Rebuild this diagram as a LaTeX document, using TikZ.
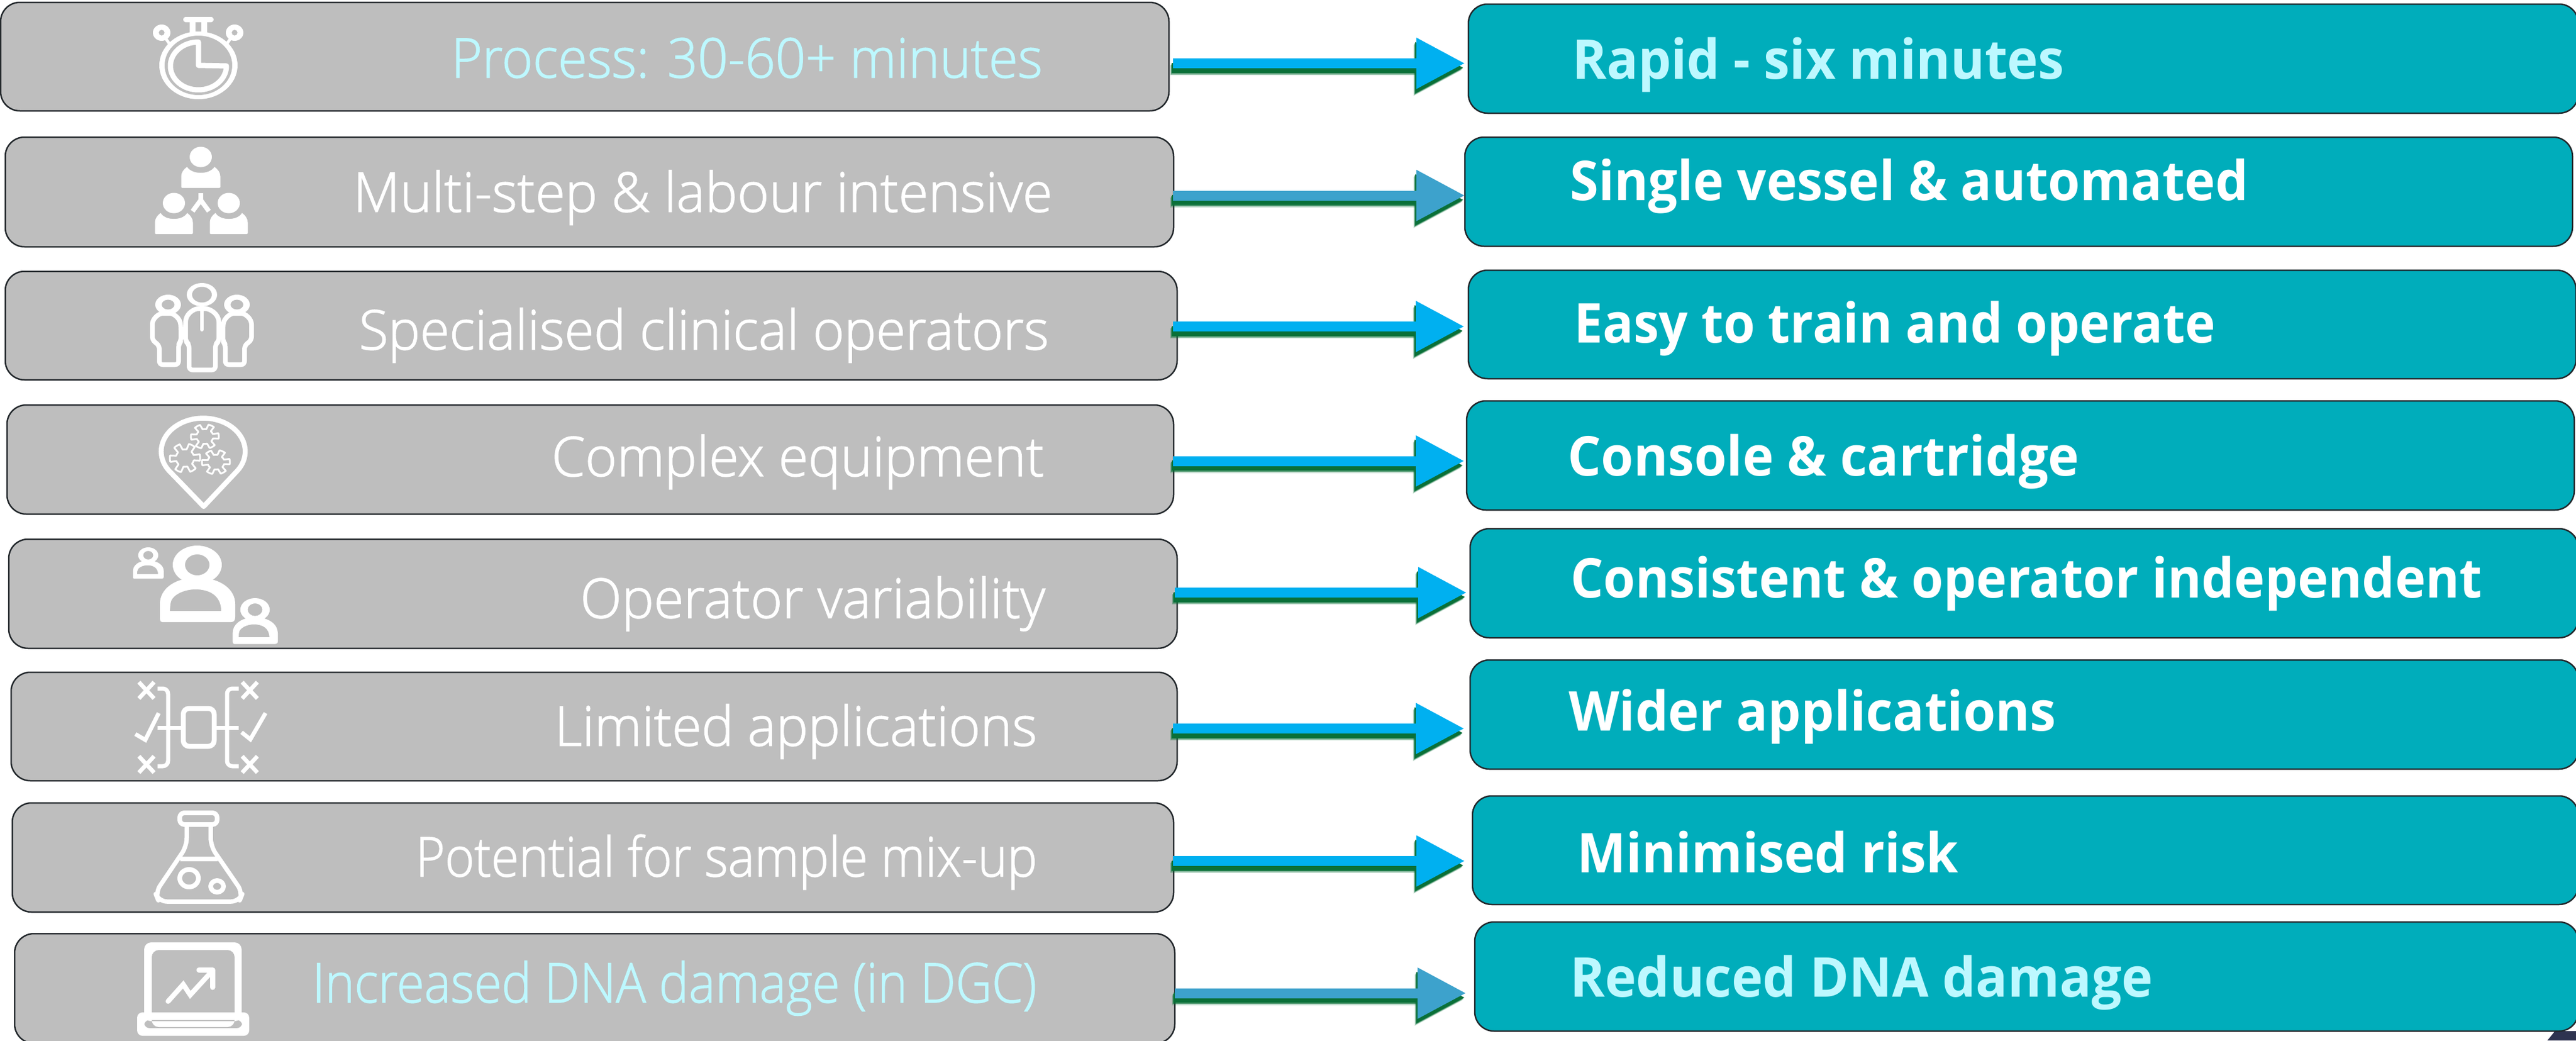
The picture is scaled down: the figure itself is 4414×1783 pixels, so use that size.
\documentclass[tikz,border=0pt]{standalone}
\usepackage{fontspec}
\usetikzlibrary{arrows.meta,calc}
\newfontfamily\leftfont[RawFeature={embolden=1.5}]{Open Sans Light}
\newfontfamily\rightfont{Open Sans}
\definecolor{boxgray}{HTML}{BEBEBE}
\definecolor{boxteal}{HTML}{00ADBB}
\definecolor{boxline}{HTML}{22272B}
\definecolor{arrbright}{HTML}{00B0F0}
\definecolor{arrmuted}{HTML}{3DA2CC}
\definecolor{arrshadow}{HTML}{0A7038}
\definecolor{paletext}{HTML}{BDF8FF}
\definecolor{cornernavy}{HTML}{2E3350}
\newcommand\fitw[2]{\setbox0\hbox{#2}\pgfmathsetmacro\fitr{#1/\wd0*1pt}\scalebox{\fitr}[1]{\box0}}
\tikzset{
  x=1pt,y=-1pt,
  lbox/.style={draw=boxline,line width=2.5pt,fill=boxgray,rounded corners=33pt,inner sep=0pt,outer sep=0pt},
  rbox/.style={draw=boxline,line width=2.5pt,fill=boxteal,rounded corners=33pt,inner sep=0pt,outer sep=0pt},
  ltext/.style={anchor=base west,inner sep=0pt,font=\fontsize{94}{110}\selectfont\leftfont},
  rtext/.style={anchor=base west,inner sep=0pt,font=\fontsize{94}{110}\selectfont\rightfont\bfseries},
  blockarr/.style={line width=17pt,-{Triangle[length=83pt,width=83pt]}},
  ic/.style={draw=white,line width=7pt,line join=round,line cap=round},
  icf/.style={fill=white},
  ieo/.style={fill=white,even odd rule},
}
\newcommand\boxat[6]{\node[#2,minimum width={(#5-#3)*1pt},minimum height={(#6-#4)*1pt}] (#1) at ({(#3+#5)/2},{(#4+#6)/2}) {};}
\newcommand\ringat[6]{\fill[ieo] (#1,#2) ellipse[x radius=#3,y radius=#4] (#1,#2) ellipse[x radius=#5,y radius=#6];}
% n, y, shorten start, shorten end, colour
\newcommand\blockat[5]{%
  \coordinate (ay#1) at (0,#2);
  \coordinate (as#1) at (l#1.east |- ay#1);
  \coordinate (ae#1) at (r#1.west |- ay#1);
  \draw[blockarr,draw=arrshadow,opacity=.18,shorten <=#3pt,shorten >=#4pt,transform canvas={shift={(-5pt,-12pt)}}] (as#1) -- (ae#1);
  \draw[blockarr,draw=arrshadow,opacity=.35,shorten <=#3pt,shorten >=#4pt,transform canvas={shift={(-4pt,-10.5pt)}}] (as#1) -- (ae#1);
  \draw[blockarr,draw=arrshadow,opacity=.6,shorten <=#3pt,shorten >=#4pt,transform canvas={shift={(-3pt,-9pt)}}] (as#1) -- (ae#1);
  \draw[blockarr,draw=arrshadow,shorten <=#3pt,shorten >=#4pt,transform canvas={shift={(-2pt,-7.5pt)}}] (as#1) -- (ae#1);
  \draw[blockarr,draw=#5,shorten <=#3pt,shorten >=#4pt] (as#1) -- (ae#1);
}
\newcommand\solidbody[4]{% cx top bottom halfwidth
  \begin{scope}[shift={(#1,#2)},xscale=#4,yscale=#3-#2]
  \fill[white] (-1,.97) -- (-1,.45) .. controls (-1,.25) and (-.85,.1) .. (-.7,0) .. controls (-.45,.38) and (.45,.38) .. (.7,0) .. controls (.85,.1) and (1,.25) .. (1,.45) -- (1,.97) -- (.95,1) -- (-.95,1) -- cycle;
  \end{scope}}
\newcommand\domeuser[3]{% cx top scale
  \begin{scope}[shift={(#1,#2)},scale=#3]
  \fill[ieo] (0,33) ellipse[x radius=42,y radius=33] (0,33) ellipse[x radius=21,y radius=18];
  \fill[ieo] (-60,131) .. controls (-64,131) and (-64,126) .. (-64,122) -- (-64,100) .. controls (-64,75) and (-40,55) .. (0,55) .. controls (40,55) and (65,75) .. (65,100) -- (65,122) .. controls (65,128) and (63,131) .. (58,131) -- cycle
   (-47,112) -- (-46,100) .. controls (-45,85) and (-23,75) .. (-3,75) .. controls (20,75) and (41,85) .. (41,112) -- cycle;
  \end{scope}}
\newcommand\gearat[4]{\draw[white,line width=3pt,line join=round] plot[domain=0:355,samples=72] ({#1+#3*(.8+.2*sign(cos(6*\x+10)))*cos(\x)},{#2+#4*(.8+.2*sign(cos(6*\x+10)))*sin(\x)}) -- cycle;}
\begin{document}
\begin{tikzpicture}
\useasboundingbox (0,0) rectangle (4414,1783);
\fill[white] (0,0) rectangle (4414,1783);
\fill[cornernavy] (4365,1783) -- (4378,1767) -- (4414,1767) -- (4414,1783) -- cycle;
% grey boxes
\boxat{l1}{lbox}{1}{4}{2003}{190}
\boxat{l2}{lbox}{9}{235}{2011}{423}
\boxat{l3}{lbox}{9}{465}{2017}{651}
\boxat{l4}{lbox}{12}{694}{2011}{881}
\boxat{l5}{lbox}{15}{924}{2017}{1111}
\boxat{l6}{lbox}{19}{1152}{2017}{1338}
\boxat{l7}{lbox}{21}{1376}{2011}{1563}
\boxat{l8}{lbox}{25}{1600}{2013}{1788}
% teal boxes
\boxat{r1}{rbox}{2516}{7}{4418}{194}
\boxat{r2}{rbox}{2510}{235}{4408}{422}
\boxat{r3}{rbox}{2516}{463}{4414}{649}
\boxat{r4}{rbox}{2513}{687}{4411}{874}
\boxat{r5}{rbox}{2519}{906}{4418}{1093}
\boxat{r6}{rbox}{2519}{1131}{4418}{1318}
\boxat{r7}{rbox}{2523}{1364}{4418}{1550}
\boxat{r8}{rbox}{2527}{1580}{4418}{1767}
% arrows
\blockat{1}{108.5}{7}{6}{arrbright}
\blockat{2}{335}{-1}{0}{arrmuted}
\blockat{3}{559.5}{-7}{7}{arrbright}
\blockat{4}{790}{-1}{4}{arrbright}
\blockat{5}{1015.5}{-4}{6}{arrbright}
\blockat{6}{1248.5}{-7}{10}{arrbright}
\blockat{7}{1475.5}{-1}{13}{arrbright}
\blockat{8}{1702}{0}{15}{arrmuted}
% left labels
\node[ltext,text=paletext] (t1) at (773,133) {\fitw{1013}{Process: 30-60+ minutes}};
\node[ltext,text=white] (t2) at (605,363) {\fitw{1198}{Multi-step \& labour intensive}};
\node[ltext,text=white] (t3) at (615,599) {\fitw{1182}{Specialised clinical operators}};
\node[ltext,text=white] (t4) at (945,816) {\fitw{844}{Complex equipment}};
\node[ltext,text=white] (t5) at (994,1059) {\fitw{797}{Operator variability}};
\node[ltext,text=white] (t6) at (950,1278) {\fitw{827}{Limited applications}};
\node[ltext,text=white] (t7) at (712,1502) {\fitw{1065}{Potential for sample mix-up}};
\node[ltext,text=paletext] (t8) at (535,1718) {\fitw{1241}{Increased DNA damage (in DGC)}};
% right labels
\node[rtext,text=paletext] (u1) at (2694,135) {\fitw{843}{Rapid - six minutes}};
\node[rtext,text=white] (u2) at (2690,343) {\fitw{1162}{Single vessel \& automated}};
\node[rtext,text=white] (u3) at (2697,587) {\fitw{1099}{Easy to train and operate}};
\node[rtext,text=white] (u4) at (2686,815) {\fitw{877}{Console \& cartridge}};
\node[rtext,text=white] (u5) at (2691,1024) {\fitw{1562}{Consistent \& operator independent}};
\node[rtext,text=white] (u6) at (2688,1252) {\fitw{835}{Wider applications}};
\node[rtext,text=white] (u7) at (2702,1495) {\fitw{654}{Minimised risk}};
\node[rtext,text=paletext] (u8) at (2690,1708) {\fitw{999}{Reduced DNA damage}};
% icon 1: stopwatch
\ringat{340}{112}{67}{58}{58}{51}
\ringat{277}{56}{15}{14}{5}{5}
\ringat{402}{56}{15}{14}{5}{5}
\draw[ic,line width=5pt] (284,66) -- (291,76) (395,66) -- (388,76);
\fill[white,rounded corners=4pt] (314,29) rectangle (366,38);
\draw[ic,line width=10pt,line cap=butt] (330,36) -- (330,56) (350,36) -- (350,56);
\draw[ic,line width=9pt] (340,112) -- (340,72) arc[start angle=-90,end angle=-360,x radius=48,y radius=41] -- cycle;
% icon 2: network of people
\fill[white] (344,269) ellipse[x radius=19,y radius=17.5];
\solidbody{344}{286}{322}{33.5}
\fill[white] (298,348) ellipse[x radius=19,y radius=17.5];
\solidbody{298}{365}{401}{32.5}
\fill[white] (392,348) ellipse[x radius=19,y radius=17.5];
\solidbody{392}{365}{401}{32.5}
\draw[ic,line width=8pt,line cap=butt,line join=miter] (344,331) -- (344,345) (330,362) -- (344,343) -- (358,362);
% icon 3: three people
\ringat{346}{505}{26}{20}{17}{13.5}
\ringat{288}{522}{22}{17}{11}{8.5}
\ringat{406}{522}{22}{17}{11}{8.5}
\draw[ic,line width=8pt,rounded corners=6pt] (318,585) -- (318,558) .. controls (318,538) and (332,529) .. (346,529) .. controls (360,529) and (375,538) .. (375,558) -- (375,585) -- (369,590) -- (369,634) -- (324,634) -- (324,590) -- cycle;
\draw[ic,line width=8pt,rounded corners=6pt] (273,625) -- (273,592) -- (261,583) -- (261,562) .. controls (261,546) and (272,537) .. (285,537) .. controls (298,537) and (308,546) .. (310,560) -- (310,585) -- (306,590) -- (306,625) -- cycle;
\draw[ic,line width=8pt,rounded corners=6pt] (419,625) -- (419,592) -- (431,583) -- (431,562) .. controls (431,546) and (420,537) .. (407,537) .. controls (394,537) and (384,546) .. (382,560) -- (382,585) -- (386,590) -- (386,625) -- cycle;
\draw[ic,line width=6pt] (346,530) -- (346,565);
% icon 4: pin with gears
\draw[ic,line width=8.5pt] (349,868) -- (289,806) arc[start angle=-214.7,end angle=34.7,x radius=72,y radius=57] -- cycle;
\gearat{351}{748}{24}{21}
\gearat{317}{785}{26}{25}
\gearat{370}{792}{24}{21}
% icon 5: users
\domeuser{338}{935}{1}
\domeuser{254}{938}{.41}
\domeuser{437}{1025}{.6}
% icon 6: applications
\draw[ic,line width=8.5pt,rounded corners=10pt] (314,1214) rectangle (367,1279);
\draw[ic,line cap=butt] (270,1247) -- (311,1247) (370,1247) -- (409,1247);
\draw[ic,line cap=butt,rounded corners=9pt] (270,1180) -- (288,1180) -- (288,1313) -- (270,1313);
\draw[ic,line cap=butt,rounded corners=9pt] (409,1180) -- (389,1180) -- (389,1313) -- (409,1313);
\foreach \mx/\my in {251/1183,428/1183,251/1310,428/1310}
  \draw[ic,line width=7pt,line cap=butt] (\mx-13,\my-14) -- (\mx+13,\my+14) (\mx+13,\my-14) -- (\mx-13,\my+14);
\draw[ic,line width=7pt,line join=miter,line cap=butt] (232,1258) -- (249,1268) -- (272,1222);
\draw[ic,line width=7pt,line join=miter,line cap=butt] (414,1255) -- (429,1267) -- (455,1222);
% icon 7: flask
\draw[ic,line width=8pt,rounded corners=8pt] (308,1393) rectangle (372,1413);
\draw[ic,line width=7.5pt,rounded corners=14pt] (320,1417) -- (320,1450) -- (266,1530) -- (272,1545) -- (410,1545) -- (416,1530) -- (361,1450) -- (361,1417);
\draw[ic,line width=8pt,line cap=butt] (309,1472) -- (373,1472);
\draw[ic,line width=8pt] (324,1505) ellipse[x radius=16,y radius=15];
\draw[ic,line width=8pt] (372,1519) ellipse[x radius=11,y radius=10];
% icon 8: laptop
\fill[ieo,rounded corners=12pt] (247,1750) -- (247,1615) -- (414,1615) -- (414,1750) -- cycle (260,1760) -- (260,1628) -- (402,1628) -- (402,1760) -- cycle;
\fill[ieo,rounded corners=9pt] (235,1735) -- (427,1735) -- (427,1775) -- (235,1775) -- cycle (247,1748) -- (415,1748) -- (415,1762) -- (247,1762) -- cycle;
\draw[ic,line width=8.5pt,line join=miter] (288,1716) -- (314,1687) -- (326,1705) -- (359,1669);
\draw[ic,line width=9pt] (341,1662) -- (364,1662) -- (364,1692);
\end{tikzpicture}
\end{document}
